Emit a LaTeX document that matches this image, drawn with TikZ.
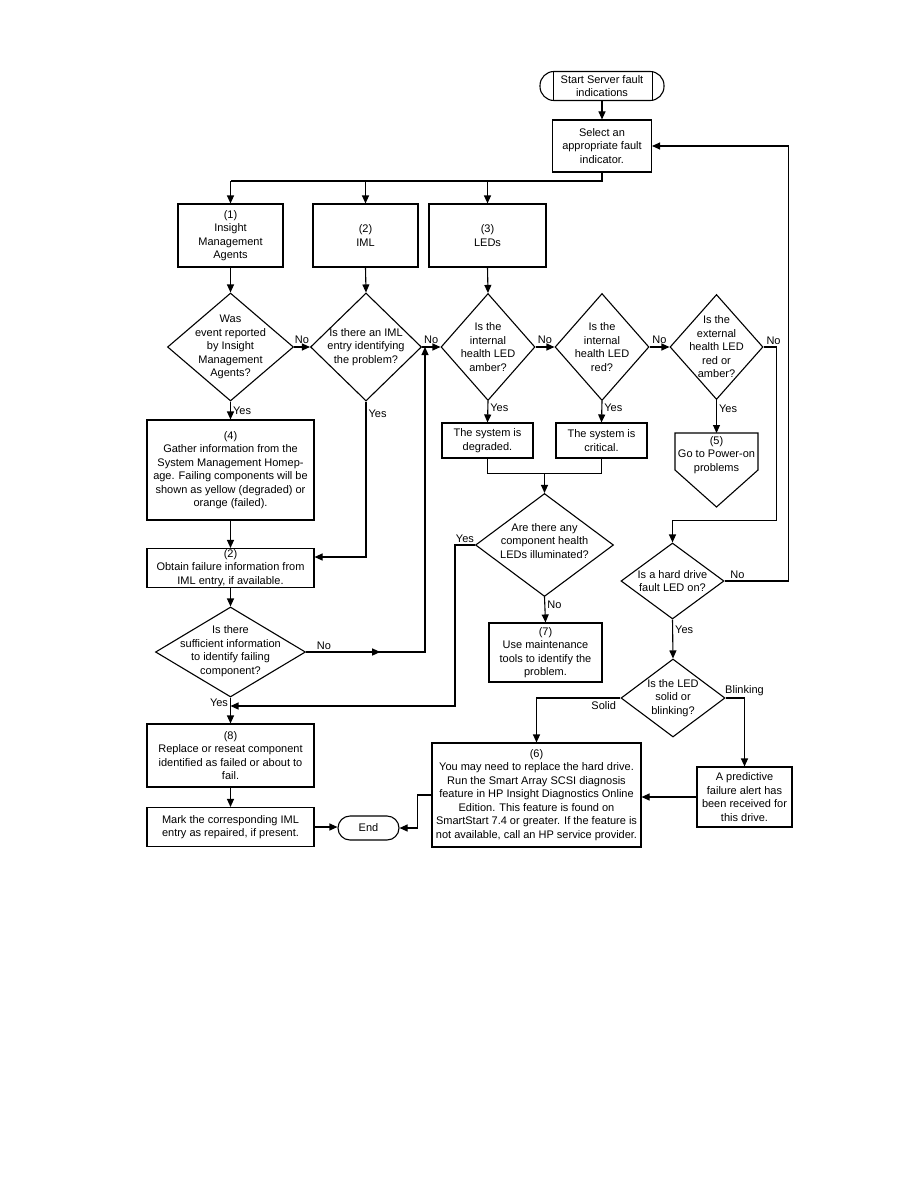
\documentclass[tikz,border=0pt]{standalone}
\usepackage{fontspec}
\setmainfont{Liberation Sans}
\usetikzlibrary{arrows.meta,positioning,shapes.geometric,calc,decorations.markings}

\begin{document}
\begin{tikzpicture}[x=1pt,y=-1pt,
    every node/.style={font=\fontsize{11}{13.5}\selectfont},
    card/.style={draw,line width=1.1pt,align=center,inner xsep=1pt,inner ysep=0.5pt},
    term/.style={draw,line width=1.1pt,rounded corners=12pt,align=center,inner sep=1pt},
    dia/.style={draw,line width=1.1pt,diamond,inner sep=0pt},
    txt/.style={align=center,inner sep=0pt},
    lbl/.style={inner sep=2pt},
    line/.style={line width=1.1pt},
    arr/.style={-{Triangle[length=8pt,width=7pt]},line width=1.1pt},
    midarr/.style={postaction={decorate},decoration={markings,
      mark=at position #1 with {\arrow{Triangle[length=8pt,width=7pt]}}}}
  ]
    \useasboundingbox (0,0) rectangle (918,1188);

    % start and fault indicator
    \node[term,rounded corners=14pt,minimum width=124pt,minimum height=29pt] (start) at (602,86) {Start Server fault\\indications};
    \draw[line] ([xshift=14pt]start.north west) -- ([xshift=14pt]start.south west);
    \draw[line] ([xshift=-12pt]start.north east) -- ([xshift=-12pt]start.south east);
    \node[card,minimum width=99pt,minimum height=52pt] (sel) at (602,146) {Select an\\appropriate fault\\indicator.};
    \draw[arr] (start.south) -- (sel.north);

    \coordinate (bus) at (0,181);
    \coordinate (loopx) at (425,0);
    \coordinate (yesbus) at (0,706);
    \draw[line] (sel.south) |- (bus -| 230.5,0);
    \foreach \n/\x/\w/\txt in {
      b1/230.5/105/{(1)\\Insight\\Management\\Agents},
      b2/365.5/105/{(2)\\IML},
      b3/487.5/117/{(3)\\LEDs}}{
      \node[card,minimum width=\w pt,minimum height=63pt] (\n) at (\x,235.5) {\txt};
      \draw[arr] (bus -| \n.north) -- (\n.north);
    }

    % decision row
    \foreach \n/\x/\w/\h/\txt in {
      d1/230.5/126/108/{Was\\event reported\\by Insight\\Management\\Agents?},
      d2/366/111/108/{Is there an IML\\entry identifying\\the problem?},
      d3/488/94/107/{Is the\\internal\\health LED\\amber?},
      d4/602/94/107/{Is the\\internal\\health LED\\red?},
      d5/716.5/93/105/{Is the\\external\\health LED\\red or\\amber?}}{
      \node[dia,minimum width=\w pt,minimum height=\h pt] (\n) at (\x,347) {};
      \node[txt] (\n-t) at (\n) {\txt};
    }
    \foreach \a/\b in {b1/d1,b2/d2,b3/d3}
      \draw[arr] (\a.south) -- (\b.north);
    \foreach \a/\b in {d1/d2,d2/d3,d3/d4,d4/d5}
      \draw[arr] (\a.east) -- (\b.west) node[lbl,midway,above,yshift=1pt]{No};

    % LED results
    \node[card,minimum width=91pt,minimum height=35pt] (deg) at (487.5,440.5) {The system is\\degraded.};
    \node[card,minimum width=91pt,minimum height=35pt] (crit) at (601.5,440.5) {The system is\\critical.};
    \node[txt] (p5) at (716.5,455) {(5)\\Go to Power-on\\problems};
    \draw[line] (p5.center) ++(-41.5,-22) -- ++(83,0) -- ++(0,37) -- ++(-41.5,37) -- ++(-41.5,-37) -- cycle;
    \coordinate (p5top) at ([yshift=22pt]p5.center);
    \draw[arr] (d3.south) -- (deg.north) node[lbl,pos=0.3,right]{Yes};
    \draw[arr] (d4.south) -- (crit.north) node[lbl,pos=0.3,right]{Yes};
    \draw[arr] (d5.south) -- (p5top) node[lbl,pos=0.25,right]{Yes};

    \node[dia,minimum width=138pt,minimum height=103pt] (dill) at (544.5,545) {};
    \node[txt] (dill-t) at (544.5,541) {Are there any\\component health\\LEDs illuminated?};
    \coordinate (merge) at ($(deg.south)!0.5!(crit.south)+(0,15)$);
    \draw[line] (deg.south) -- ++(0,15) -| (crit.south);
    \draw[arr] (merge) -- (dill.north);
    \node[card,minimum width=113pt,minimum height=59pt] (b7) at (545.5,652.5) {(7)\\Use maintenance\\tools to identify the\\problem.};
    \draw[arr] (dill.south) -- (b7.north) node[lbl,pos=0.3,right]{No};

    % left column
    \node[card,minimum width=167pt,minimum height=100pt] (b4) at (230.5,470) {(4)\\Gather information from the\\System Management Homep-\\age. Failing components will be\\shown as yellow (degraded) or\\orange (failed).};
    \node[card,minimum width=167pt,minimum height=39pt,inner ysep=0pt] (b2b) at (230.5,568) {(2)\\Obtain failure information from\\IML entry, if available.};
    \node[dia,minimum width=150pt,minimum height=90pt] (d3s) at (230.5,652) {};
    \node[txt] (d3s-t) at (230.5,651) {Is there\\sufficient information\\to identify failing\\component?};
    \node[card,minimum width=167pt,minimum height=63pt] (b8) at (230.5,755.5) {(8)\\Replace or reseat component\\identified as failed or about to\\fail.};
    \node[card,minimum width=167pt,minimum height=39pt] (mark) at (230.5,827) {Mark the corresponding IML\\entry as repaired, if present.};
    \node[term,minimum width=61pt,minimum height=24pt] (endn) at (368.5,828) {End};

    \draw[arr] (d1.south) -- (b4.north) node[lbl,midway,right]{Yes};
    \draw[arr] (d2.south) |- ([yshift=11pt]b2b.east) node[lbl,pos=0.04,right]{Yes};
    \draw[arr] (b4.south) -- (b2b.north);
    \draw[arr] (b2b.south) -- (d3s.north);
    \draw[arr,midarr=0.175] (d3s.east) -- (d3s.east -| loopx) node[lbl,pos=0.15,above]{No}
      -- (d3.west -| loopx);
    \draw[arr] (d3s.south) -- (b8.north) node[lbl,pos=0.2,left]{Yes};
    \draw[arr] (dill.west) -- ++(-20,0) node[lbl,pos=0.5,above]{Yes} |- (yesbus -| b8.north);
    \draw[arr] (b8.south) -- (mark.north);
    \draw[arr] (mark.east) -- (mark.east -| endn.west);

    % hard drive branch
    \node[dia,minimum width=103pt,minimum height=76pt] (dhd) at (672.5,581) {};
    \node[txt] (dhd-t) at (dhd) {Is a hard drive\\fault LED on?};
    \node[dia,minimum width=104pt,minimum height=78pt] (dled) at (673,698) {};
    \node[txt] (dled-t) at (dled) {Is the LED\\solid or\\blinking?};
    \node[card,minimum width=209pt,minimum height=104pt] (b6) at (536.5,795) {(6)\\You may need to replace the hard drive.\\Run the Smart Array SCSI diagnosis\\feature in HP Insight Diagnostics Online\\Edition. This feature is found on\\SmartStart 7.4 or greater. If the feature is\\not available, call an HP service provider.};
    \node[card,minimum width=95pt,minimum height=60pt] (bpred) at (744.5,797) {A predictive\\failure alert has\\been received for\\this drive.};

    \draw[arr] (d5.east) -- ++(13,0) node[lbl,above,xshift=-3pt]{No} |- ([yshift=22pt]dhd.north) -- (dhd.north);
    \draw[arr] (dhd.east) -- ++(64,0) node[lbl,pos=0.2,above]{No} |- (sel.east);
    \draw[arr] (dhd.south) -- (dled.north) node[lbl,pos=0.25,right]{Yes};
    \draw[arr] (dled.west) -| (b6.north) node[lbl,pos=0.1,below,yshift=-1pt]{Solid};
    \draw[arr] (dled.east) -| (bpred.north) node[lbl,pos=0.5,above]{Blinking};
    \draw[arr] (bpred.west) -- (bpred.west -| b6.east);
    \draw[arr] (b6.west) -- ++(-14,0) |- (endn.east);
  \end{tikzpicture}
\end{document}
